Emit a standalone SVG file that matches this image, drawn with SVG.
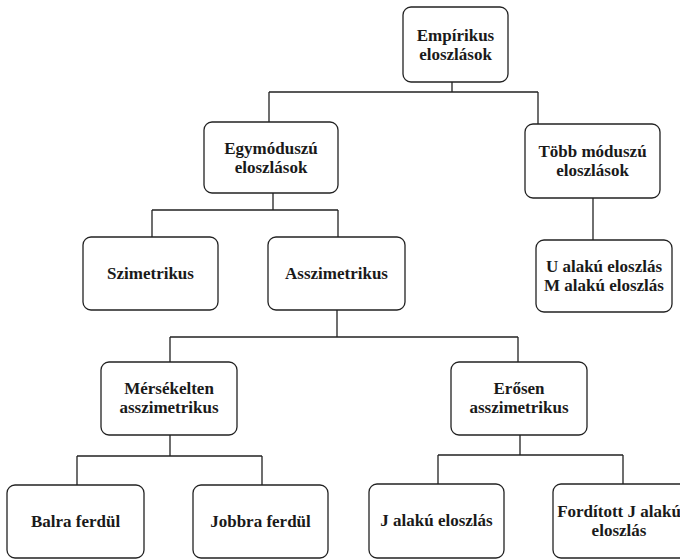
<svg xmlns="http://www.w3.org/2000/svg" width="680" height="560" viewBox="0 0 680 560">
  <style>
    .box { fill: #ffffff; stroke: #222222; stroke-width: 1.3; }
    .lbl { font-family: "Liberation Serif", "Times New Roman", serif; font-weight: bold; font-size: 17px; fill: #1a1a1a; text-anchor: middle; }
    .wire { fill: none; stroke: #222222; stroke-width: 1.3; }
  </style>
  <rect width="680" height="560" fill="#ffffff"/>

  <!-- tree connectors -->
  <g id="connectors">
    <path class="wire" d="M452 82 V92 M269 92 H538 M269 92 V122 M538 92 V124"/>
    <path class="wire" d="M273 193 V210 M152 210 H338 M152 210 V237 M338 210 V237"/>
    <path class="wire" d="M593 198 V240"/>
    <path class="wire" d="M337 310 V337 M170 337 H518 M170 337 V362 M518 337 V362"/>
    <path class="wire" d="M170 435 V456 M77 456 H262 M77 456 V485 M262 456 V485"/>
    <path class="wire" d="M520 435 V455 M438 455 H623 M438 455 V484 M623 455 V484"/>
  </g>

  <g id="empirikus">
    <rect class="box" x="403" y="7" width="105" height="75" rx="8"/>
    <text class="lbl" x="455.5" y="41">Empírikus</text>
    <text class="lbl" x="455.5" y="60">eloszlások</text>
  </g>

  <g id="egymoduszu">
    <rect class="box" x="204" y="122" width="134" height="71" rx="8"/>
    <text class="lbl" x="271" y="154">Egymóduszú</text>
    <text class="lbl" x="271" y="173">eloszlások</text>
  </g>

  <g id="tobb-moduszu">
    <rect class="box" x="525" y="124" width="135" height="74" rx="8"/>
    <text class="lbl" x="592.5" y="157">Több móduszú</text>
    <text class="lbl" x="592.5" y="176">eloszlások</text>
  </g>

  <g id="szimetrikus">
    <rect class="box" x="83" y="237" width="135" height="73" rx="8"/>
    <text class="lbl" x="150.5" y="279">Szimetrikus</text>
  </g>

  <g id="asszimetrikus">
    <rect class="box" x="268" y="237" width="137" height="73" rx="8"/>
    <text class="lbl" x="336.5" y="279">Asszimetrikus</text>
  </g>

  <g id="u-m-alaku">
    <rect class="box" x="536" y="240" width="136" height="72" rx="8"/>
    <text class="lbl" x="604" y="272">U alakú eloszlás</text>
    <text class="lbl" x="604" y="291">M alakú eloszlás</text>
  </g>

  <g id="mersekelten">
    <rect class="box" x="101" y="362" width="136" height="73" rx="8"/>
    <text class="lbl" x="169" y="394">Mérsékelten</text>
    <text class="lbl" x="169" y="413">asszimetrikus</text>
  </g>

  <g id="erosen">
    <rect class="box" x="451" y="362" width="136" height="73" rx="8"/>
    <text class="lbl" x="519" y="394">Erősen</text>
    <text class="lbl" x="519" y="413">asszimetrikus</text>
  </g>

  <g id="balra">
    <rect class="box" x="7" y="485" width="137" height="73" rx="8"/>
    <text class="lbl" x="75.5" y="527">Balra ferdül</text>
  </g>

  <g id="jobbra">
    <rect class="box" x="193" y="485" width="135" height="73" rx="8"/>
    <text class="lbl" x="260.5" y="527">Jobbra ferdül</text>
  </g>

  <g id="j-alaku">
    <rect class="box" x="369" y="484" width="135" height="74" rx="8"/>
    <text class="lbl" x="436.5" y="526">J alakú eloszlás</text>
  </g>

  <g id="forditott-j">
    <rect class="box" x="553" y="484" width="136" height="74" rx="8"/>
    <text class="lbl" x="619" y="517">Fordított J alakú</text>
    <text class="lbl" x="619" y="536">eloszlás</text>
  </g>
</svg>
